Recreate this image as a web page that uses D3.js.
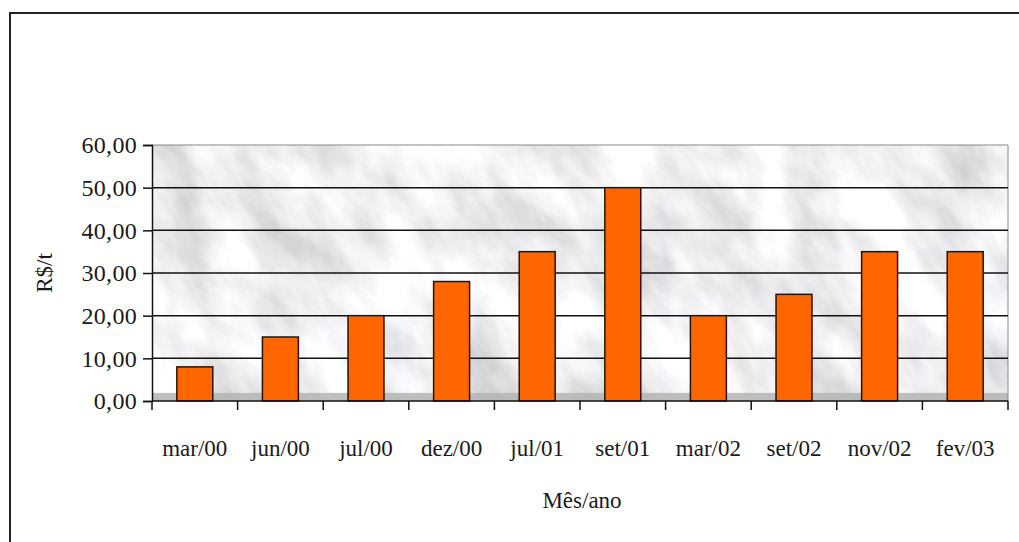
<!DOCTYPE html>
<html lang="pt">
<head>
    <meta charset="UTF-8">
    <title>R$/t por mês</title>
    <script src="https://d3js.org/d3.v7.min.js"></script>
    <style>
        body { margin: 0; background: #fff; }
        text { font-family: "Liberation Serif", "DejaVu Serif", serif; fill: #1a1a1a; }
    </style>
</head>
<body>
    <div id="chart"></div>

    <script>
        // Data
        const categories = ["mar/00", "jun/00", "jul/00", "dez/00", "jul/01", "set/01", "mar/02", "set/02", "nov/02", "fev/03"];
        const values = [8, 15, 20, 28, 35, 50, 20, 25, 35, 35];
        const yTicks = [0, 10, 20, 30, 40, 50, 60];

        const svgWidth = 1019;
        const svgHeight = 542;
        const margin = { top: 145, right: 11, bottom: 141, left: 152 };
        const width = svgWidth - margin.left - margin.right;
        const height = svgHeight - margin.top - margin.bottom;

        const root = d3.select("#chart")
            .append("svg")
            .attr("width", svgWidth)
            .attr("height", svgHeight);

        // marble-ish texture
        const defs = root.append("defs");
        const filter = defs.append("filter")
            .attr("id", "marble")
            .attr("x", 0).attr("y", 0).attr("width", 1).attr("height", 1);
        filter.append("feTurbulence")
            .attr("type", "fractalNoise")
            .attr("baseFrequency", "0.022 0.01")
            .attr("numOctaves", 5)
            .attr("seed", 11);
        filter.append("feColorMatrix")
            .attr("type", "matrix")
            .attr("values", "0.75 0 0 0 0.5  0.75 0 0 0 0.5  0.75 0 0 0 0.52  0 0 0 0 1");
        defs.append("clipPath").attr("id", "plotClip")
            .append("rect").attr("width", width).attr("height", height);

        // outer frame (only top and left show)
        root.append("path")
            .attr("d", `M10,${svgHeight} V13 H${svgWidth}`)
            .attr("fill", "none")
            .attr("stroke", "#222")
            .attr("stroke-width", 2);

        const svg = root.append("g")
            .attr("transform", `translate(${margin.left},${margin.top})`);

        const x = d3.scaleBand()
            .domain(categories)
            .range([0, width])
            .paddingInner(0.58)
            .paddingOuter(0.29);

        const y = d3.scaleLinear()
            .domain([0, 60])
            .range([height, 0]);

        const locale = d3.formatLocale({ decimal: ",", thousands: ".", grouping: [3], currency: ["R$", ""] });
        const fmt = locale.format(".2f");

        // plot background (rotated texture for diagonal streaks)
        svg.append("g")
            .attr("clip-path", "url(#plotClip)")
            .append("rect")
            .attr("x", -300).attr("y", -400)
            .attr("width", width + 600).attr("height", height + 800)
            .attr("transform", `rotate(-35 ${width / 2} ${height / 2})`)
            .attr("filter", "url(#marble)");

        svg.append("rect")
            .attr("y", y(1.9))
            .attr("width", width)
            .attr("height", height - y(1.9))
            .attr("fill", "#b4b4b4")
            .attr("opacity", 0.85);

        svg.append("line")
            .attr("x1", 0).attr("x2", width)
            .attr("y1", 0).attr("y2", 0)
            .attr("stroke", "#888");
        svg.append("line")
            .attr("x1", width).attr("x2", width)
            .attr("y1", 0).attr("y2", height)
            .attr("stroke", "#888");

        // gridlines
        svg.append("g")
            .selectAll("line")
            .data(yTicks.filter(d => d > 0 && d < 60))
            .enter().append("line")
            .attr("x1", 0).attr("x2", width)
            .attr("y1", d => y(d)).attr("y2", d => y(d))
            .attr("stroke", "#111")
            .attr("stroke-width", 1.5);

        // bars
        svg.selectAll(".bar")
            .data(values)
            .enter().append("rect")
            .attr("class", "bar")
            .attr("x", (d, i) => x(categories[i]))
            .attr("y", d => y(d))
            .attr("width", x.bandwidth())
            .attr("height", d => height - y(d))
            .attr("fill", "#ff6600")
            .attr("stroke", "#2a1200")
            .attr("stroke-width", 1.5);

        // y axis
        const yAxis = svg.append("g")
            .call(d3.axisLeft(y).tickValues(yTicks).tickFormat(fmt).tickSize(9).tickPadding(6));
        yAxis.select(".domain").attr("stroke", "#111").attr("stroke-width", 1.5);
        yAxis.selectAll(".tick line").attr("stroke", "#111").attr("stroke-width", 1.5);
        yAxis.selectAll("text")
            .style("font-family", "Liberation Serif")
            .style("font-size", "24px")
            .style("letter-spacing", "0.3px")
            .attr("fill", "#1a1a1a");

        // x axis with ticks at band boundaries
        const edges = d3.range(categories.length + 1).map(i => i * x.step());
        const xAxis = svg.append("g")
            .attr("transform", `translate(0,${height})`);
        xAxis.append("line")
            .attr("x1", 0).attr("x2", width)
            .attr("stroke", "#111").attr("stroke-width", 1.5);
        xAxis.selectAll(".edge")
            .data(edges)
            .enter().append("line")
            .attr("class", "edge")
            .attr("x1", d => d).attr("x2", d => d)
            .attr("y1", 0).attr("y2", 9)
            .attr("stroke", "#111").attr("stroke-width", 1.5);
        xAxis.selectAll(".lbl")
            .data(categories)
            .enter().append("text")
            .attr("class", "lbl")
            .attr("x", d => x(d) + x.bandwidth() / 2)
            .attr("y", 55)
            .attr("text-anchor", "middle")
            .style("font-size", "23px")
            .text(d => d);

        // axis titles
        svg.append("text")
            .attr("x", width / 2 + 2)
            .attr("y", height + 107)
            .attr("text-anchor", "middle")
            .style("font-size", "23px")
            .text("Mês/ano");

        svg.append("text")
            .attr("transform", `translate(${-100},${height / 2}) rotate(-90)`)
            .attr("text-anchor", "middle")
            .style("font-size", "23px")
            .text("R$/t");
    </script>
</body>
</html>
